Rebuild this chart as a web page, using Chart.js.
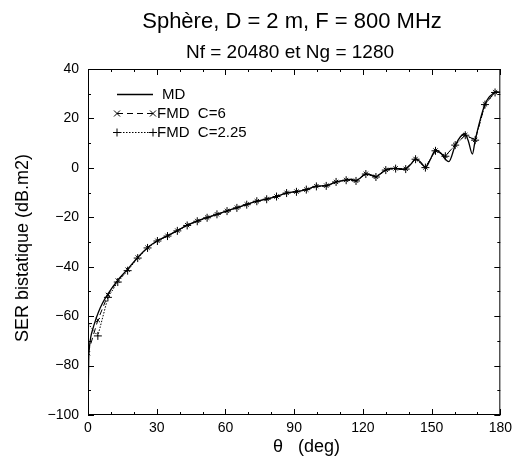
<!DOCTYPE html>
<html>
<head>
<meta charset="utf-8">
<script src="https://cdn.jsdelivr.net/npm/chart.js@4.4.0/dist/chart.umd.min.js"></script>
<style>
  body { margin: 0; background: #fff; }
</style>
</head>
<body>
<canvas id="myChart" width="517" height="461"></canvas>
<script>
// MD (solid line), finely sampled
const thetaMD = [0, 0.3, 0.7, 1.2, 2, 3.3, 4.5, 6.2, 8.7, 13, 17.3, 21.7, 26, 30.3, 34.7, 39,
  43.3, 47.7, 52, 56.3, 60.7, 65, 69.3, 73.7, 78, 82.3, 86.7, 91, 95.3, 99.7, 104, 108.3,
  112.7, 115, 117, 119, 121.3, 123.5, 125.7, 128, 130, 132, 134.3, 136.5, 138.7, 141, 143,
  145.3, 147.3, 149.5, 151.7, 154, 156, 157.5, 160.3, 162.5, 164.5, 166, 167.8, 169, 171.2,
  173.3, 175, 176.5, 178.4, 180];
const serMD = [-100, -78, -72, -68.5, -65.5, -61.6, -58.5, -55, -51, -45.4, -41, -36.2, -32.3, -29.5, -27.5, -25.4,
  -23.2, -21.5, -20.1, -18.8, -17.4, -16.1, -14.8, -13.5, -12.6, -11.6, -10.1, -9.6, -8.8, -7.4, -7.2, -5.7,
  -4.9, -4.6, -5.2, -4.0, -2.4, -2.8, -3.6, -2.2, -0.8, -0.2, -0.2, -0.6, -0.4, 1.5, 3.6,
  2.2, 0.2, 3.5, 7.2, 6.0, 3.5, 2.5, 9.0, 12.5, 13.8, 11, 5.6, 11.0, 19.4,
  25.7, 28.5, 29.8, 30.8, 30.6];

// FMD (markers)
const thetaFMD = [0, 4.3, 8.7, 13.0, 17.3, 21.7, 26.0, 30.3, 34.7, 39.0,
  43.3, 47.7, 52.0, 56.3, 60.7, 65.0, 69.3, 73.7, 78.0, 82.3,
  86.7, 91.0, 95.3, 99.7, 104.0, 108.3, 112.7, 117.0, 121.3, 125.7,
  130.0, 134.3, 138.7, 143.0, 147.3, 151.7, 156.0, 160.3, 164.7, 169.0,
  173.3, 177.7];
const serFMD6 = [-75, -61.6, -51.4, -45.6, -41.2, -36.3, -32.3, -29.5, -27.5, -25.4,
  -23.2, -21.5, -20.1, -18.8, -17.4, -16.1, -14.8, -13.5, -12.6, -11.6,
  -10.1, -9.6, -8.8, -7.4, -7.2, -5.7, -4.9, -5.2, -2.4, -3.6,
  -0.8, -0.2, -0.4, 3.6, 0.2, 7.0, 4.8, 9.3, 13.3, 11.3,
  25.7, 30.6];
const serFMD225 = [-63, -68, -52.4, -46.2, -41.6, -36.5, -32.4, -29.6, -27.6, -25.5,
  -23.3, -21.6, -20.2, -18.8, -17.5, -16.2, -14.9, -13.5, -12.7, -11.6,
  -10.2, -9.7, -8.8, -7.5, -7.3, -5.7, -5.0, -5.3, -2.5, -3.7,
  -0.9, -0.3, -0.5, 3.5, 0.1, 6.9, 4.7, 9.2, 13.2, 11.2,
  25.6, 30.5];

const xTicks = [0, 30, 60, 90, 120, 150, 180];
const yTicks = [-100, -80, -60, -40, -20, 0, 20, 40];

const seriesLabels = ["MD", "FMD  C=6", "FMD  C=2.25"];
const FONT = "'Liberation Sans', Arial, sans-serif";

function toPoints(xs, ys) {
  return xs.map((x, i) => ({ x: x, y: ys[i] }));
}

function drawMark(ctx, style, x, y, r) {
  ctx.beginPath();
  if (style === "crossRot") {
    ctx.moveTo(x - r, y - r); ctx.lineTo(x + r, y + r);
    ctx.moveTo(x - r, y + r); ctx.lineTo(x + r, y - r);
  } else {
    ctx.moveTo(x - r, y); ctx.lineTo(x + r, y);
    ctx.moveTo(x, y - r); ctx.lineTo(x, y + r);
  }
  ctx.stroke();
}

// frame with inward ticks, titles, legend
const decor = {
  id: "decor",
  afterDraw(chart) {
    const ctx = chart.ctx;
    const a = chart.chartArea;
    const xs = chart.scales.x;
    const ys = chart.scales.y;
    ctx.save();
    ctx.strokeStyle = "#000";
    ctx.lineWidth = 1;
    ctx.setLineDash([]);
    ctx.strokeRect(a.left + 0.5, a.top + 0.5, a.right - a.left - 1, a.bottom - a.top - 1);

    ctx.beginPath();
    for (let v = 0; v <= 180; v += 10) {
      const px = Math.round(xs.getPixelForValue(v)) + 0.5;
      const len = v % 30 === 0 ? 6 : 3;
      ctx.moveTo(px, a.bottom); ctx.lineTo(px, a.bottom - len);
      ctx.moveTo(px, a.top); ctx.lineTo(px, a.top + len);
    }
    for (let v = -100; v <= 40; v += 10) {
      const py = Math.round(ys.getPixelForValue(v)) + 0.5;
      const len = v % 20 === 0 ? 6 : 3;
      ctx.moveTo(a.left, py); ctx.lineTo(a.left + len, py);
      ctx.moveTo(a.right, py); ctx.lineTo(a.right - len, py);
    }
    ctx.stroke();

    ctx.fillStyle = "#000";
    ctx.textAlign = "center";
    ctx.textBaseline = "alphabetic";
    ctx.font = "22px " + FONT;
    ctx.fillText("Sphère, D = 2 m, F = 800 MHz", 292, 28);
    ctx.font = "19px " + FONT;
    ctx.fillText("Nf = 20480 et Ng = 1280", 290, 58);

    ctx.font = "18px " + FONT;
    ctx.textAlign = "left";
    ctx.fillText("θ   (deg)", 273, 452);

    ctx.save();
    ctx.translate(28, 248);
    ctx.rotate(-Math.PI / 2);
    ctx.textAlign = "center";
    ctx.fillText("SER bistatique (dB.m2)", 0, 0);
    ctx.restore();

    // legend
    const rows = [94, 113, 132];
    const textX = [162, 157, 157];
    ctx.font = "15px " + FONT;
    ctx.textBaseline = "middle";
    chart.data.datasets.forEach((ds, i) => {
      const y = rows[i] + 0.5;
      ctx.setLineDash(ds.borderDash || []);
      ctx.lineWidth = ds.borderWidth;
      ctx.beginPath();
      ctx.moveTo(117, y); ctx.lineTo(153, y);
      ctx.stroke();
      ctx.setLineDash([]);
      ctx.lineWidth = 1;
      if (ds.pointRadius > 0) {
        drawMark(ctx, ds.pointStyle, 117, y, ds.pointRadius);
        drawMark(ctx, ds.pointStyle, 153, y, ds.pointRadius);
      }
      ctx.fillText(ds.label, textX[i], rows[i] + 1);
    });
    ctx.restore();
  }
};

const ctx = document.getElementById("myChart").getContext("2d");
const serChart = new Chart(ctx, {
  type: "line",
  data: {
    datasets: [
      {
        label: seriesLabels[0],
        data: toPoints(thetaMD, serMD),
        borderColor: "#000",
        borderWidth: 1.3,
        pointRadius: 0,
        cubicInterpolationMode: "monotone",
        fill: false,
      },
      {
        label: seriesLabels[1],
        data: toPoints(thetaFMD, serFMD6),
        borderColor: "#000",
        borderWidth: 1,
        borderDash: [6, 4],
        pointStyle: "crossRot",
        pointRadius: 3,
        pointBorderWidth: 1,
        pointBorderColor: "#000",
        tension: 0,
        fill: false,
      },
      {
        label: seriesLabels[2],
        data: toPoints(thetaFMD, serFMD225),
        borderColor: "#000",
        borderWidth: 1,
        borderDash: [1.5, 1.5],
        pointStyle: "cross",
        pointRadius: 4,
        pointBorderWidth: 1,
        pointBorderColor: "#000",
        tension: 0,
        fill: false,
      },
    ],
  },
  options: {
    responsive: false,
    animation: false,
    layout: { padding: { top: 69, right: 14, left: 0, bottom: 0 } },
    plugins: {
      legend: { display: false },
      title: { display: false },
      tooltip: { enabled: false },
    },
    scales: {
      x: {
        type: "linear",
        min: 0,
        max: 180,
        afterBuildTicks: (scale) => { scale.ticks = xTicks.map((v) => ({ value: v })); },
        afterFit: (scale) => { scale.height = 46; },
        grid: { display: false, drawTicks: false },
        border: { display: false },
        ticks: {
          padding: 5,
          maxRotation: 0,
          autoSkip: false,
          color: "#000",
          font: { family: FONT, size: 14 },
        },
      },
      y: {
        type: "linear",
        min: -100,
        max: 40,
        afterBuildTicks: (scale) => { scale.ticks = yTicks.map((v) => ({ value: v })); },
        afterFit: (scale) => { scale.width = 88; },
        grid: { display: false, drawTicks: false },
        border: { display: false },
        ticks: {
          padding: 9,
          autoSkip: false,
          color: "#000",
          font: { family: FONT, size: 14 },
          callback: (v) => String(v).replace("-", "\u2212"),
        },
      },
    },
  },
  plugins: [decor],
});
</script>
</body>
</html>
